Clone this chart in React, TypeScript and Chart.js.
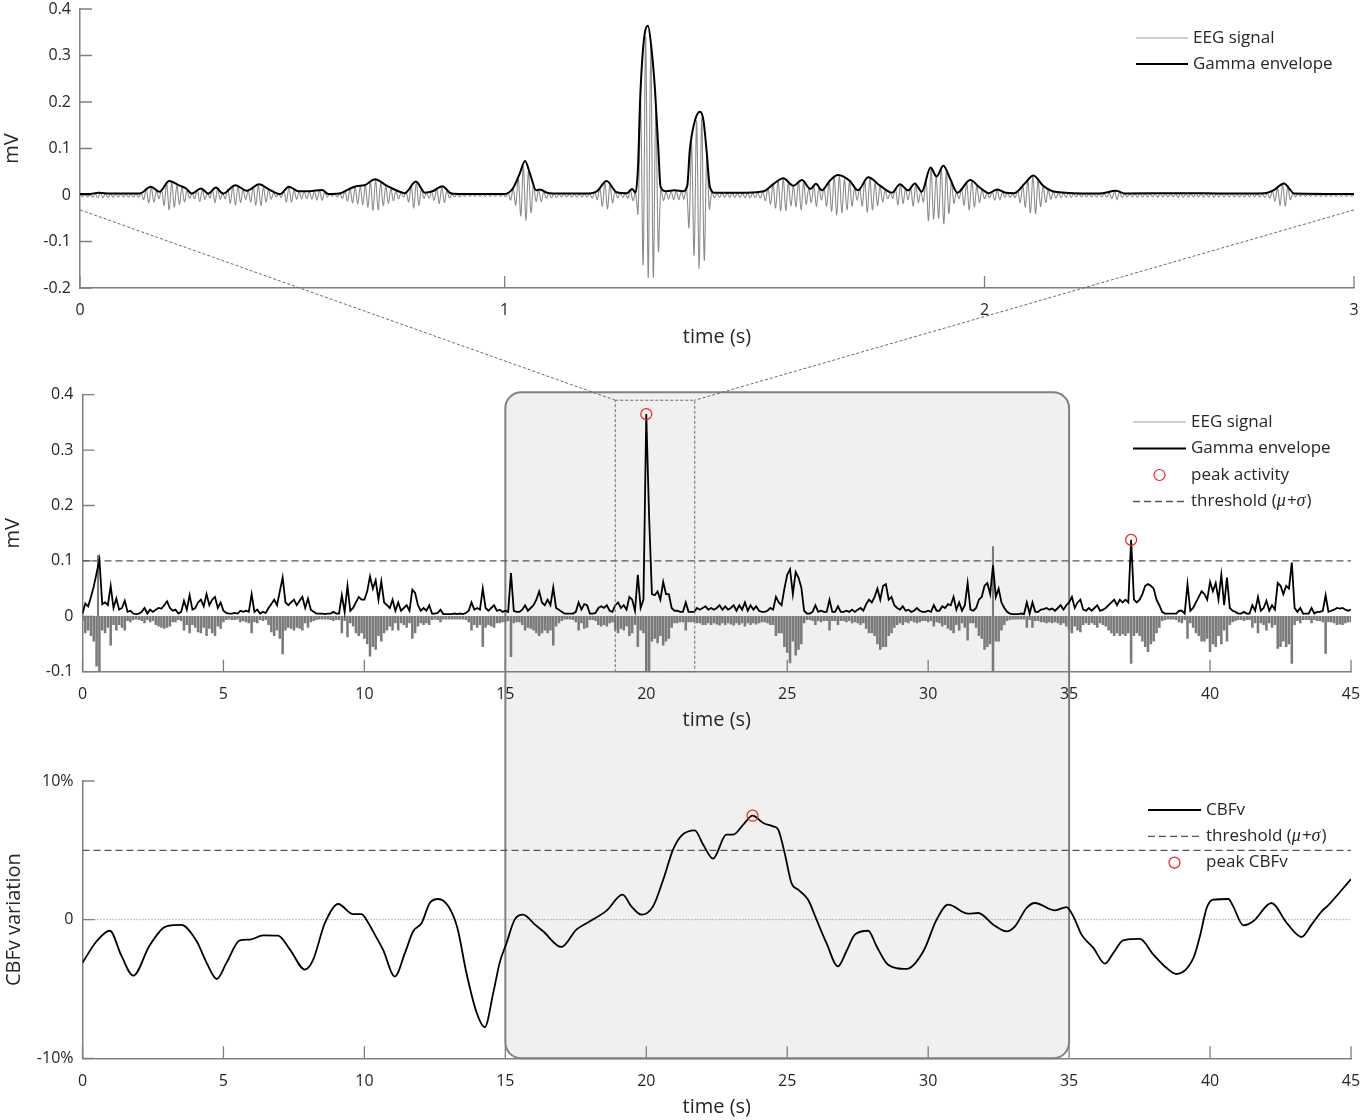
import React, { useEffect, useRef } from 'react';
import { Chart, registerables } from 'chart.js';
Chart.register(...registerables);

const FONT = "'Open Sans', 'DejaVu Sans', sans-serif";
const TEXT = '#262626';
const AXIS = '#7f7f7f';
const TICK_LEN = 12;

// ---------- Panel 1: 3 s zoom window (values in µV) ----------
const TOP_X_TICKS = [0, 1, 2.13, 3];
const TOP_X_LABELS = ['0', '1', '2', '3'];
const ENV1_T = [0, 0.02, 0.045, 0.07, 0.1, 0.14, 0.167, 0.187, 0.21, 0.235,
  0.25, 0.263, 0.285, 0.302, 0.32, 0.337, 0.366, 0.393, 0.422, 0.445,
  0.471, 0.492, 0.515, 0.54, 0.57, 0.585, 0.61, 0.632, 0.65, 0.67,
  0.695, 0.722, 0.75, 0.765, 0.791, 0.812, 0.83, 0.853, 0.875, 0.9,
  1.0, 1.02, 1.035, 1.048, 1.06, 1.074, 1.083, 1.1, 1.13, 1.19,
  1.217, 1.24, 1.264, 1.288, 1.3, 1.308, 1.314, 1.319, 1.327, 1.3375,
  1.346, 1.354, 1.362, 1.367, 1.38, 1.4, 1.42, 1.43, 1.436, 1.448,
  1.46, 1.468, 1.476, 1.483, 1.495, 1.57, 1.61, 1.635, 1.656, 1.68,
  1.7, 1.72, 1.733, 1.747, 1.765, 1.785, 1.813, 1.832, 1.856, 1.884,
  1.912, 1.931, 1.95, 1.966, 1.982, 2.003, 2.017, 2.033, 2.049, 2.066,
  2.096, 2.12, 2.14, 2.16, 2.18, 2.2, 2.225, 2.245, 2.268, 2.29,
  2.32, 2.4, 2.44, 2.46, 2.6, 2.7, 2.79, 2.81, 2.835, 2.86,
  3.0];
const ENV1_V = [2, 2, 5, 3, 3, 3, 18, 7, 30, 20,
  14, 3, 14, 3, 16, 3, 21, 9, 23, 12,
  2, 18, 8, 8, 11, 2, 3, 12, 19, 21,
  34, 20, 8, 4, 29, 5, 8, 19, 3, 2,
  2, 15, 45, 73, 45, 10, 12, 5, 3, 3,
  8, 30, 6, 4, 13, 5, 60, 204, 326, 364,
  312, 226, 97, 18, 8, 10, 8, 20, 97, 160,
  179, 161, 90, 18, 5, 5, 8, 25, 36, 20,
  32, 13, 24, 10, 30, 43, 30, 10, 38, 20,
  5, 23, 10, 25, 7, 59, 40, 63, 35, 5,
  32, 15, 4, 12, 5, 4, 25, 42, 20, 8,
  5, 3, 9, 3, 4, 3, 4, 10, 25, 3,
  2];
const EEG1_DT = 0.006;
const EEG1 = [
  1,-3,2,-4,2,-4,3,-6,4,-6,3,-5,2,-4,2,-4,2,-4,2,-4,2,-4,3,-5,5,-10,13,-17,16,-15,9,-8,12,-22,26,-32,27,-26,20,-20,16,-15,10,-7,3,-8,11,-14,12,-9,
  3,-6,11,-16,14,-9,3,-8,13,-18,19,-22,18,-16,11,-10,10,-15,18,-22,22,-23,17,-15,11,-9,5,-4,2,-5,9,-15,17,-15,11,-9,7,-8,7,-8,7,-9,9,-11,10,-11,6,-4,2,-3,
  2,-4,3,-7,9,-13,13,-17,18,-20,19,-21,21,-26,29,-33,33,-32,26,-23,19,-18,14,-12,9,-8,5,-5,6,-15,21,-28,28,-22,13,-7,5,-7,7,-11,14,-18,18,-16,9,-6,2,-4,2,-4,
  2,-3,2,-3,2,-3,2,-3,2,-3,2,-3,2,-3,2,-3,2,-4,5,-11,14,-22,38,-45,62,-54,52,-38,22,-14,11,-14,7,-7,4,-6,3,-5,2,-4,2,-4,2,-4,2,-4,2,-4,3,-5,
  4,-7,6,-10,15,-24,27,-30,23,-17,8,-6,4,-5,3,-7,10,-12,5,-40,200,-150,340,-178,320,-176,185,-120,15,-12,7,-9,8,-10,9,-10,8,-9,16,-70,115,-130,160,-158,165,-140,88,-30,7,-6,
  4,-5,4,-5,4,-5,4,-5,4,-5,4,-6,4,-6,4,-6,5,-7,7,-12,15,-20,23,-28,31,-34,35,-33,27,-23,19,-25,29,-32,27,-20,14,-16,20,-24,16,-11,16,-24,29,-35,39,-43,41,-38,
  34,-32,29,-24,16,-11,15,-24,31,-37,36,-32,26,-23,19,-15,10,-8,5,-7,14,-21,22,-18,12,-10,16,-24,23,-16,8,-15,34,-55,58,-52,40,-50,59,-62,51,-40,29,-18,6,-8,14,-22,27,-32,
  30,-26,20,-16,11,-8,4,-6,8,-11,11,-10,6,-5,4,-5,3,-6,9,-16,21,-26,31,-38,41,-40,31,-25,19,-16,11,-9,7,-7,5,-6,4,-5,4,-5,3,-4,3,-4,3,-4,3,-4,3,-4,
  3,-4,3,-5,4,-8,8,-10,6,-6,3,-4,3,-4,3,-5,4,-4,3,-4,3,-4,3,-5,4,-4,3,-4,3,-4,3,-5,4,-5,3,-4,3,-4,3,-4,3,-4,3,-4,4,-5,3,-4,3,-4,
  3,-4,3,-4,3,-4,3,-4,3,-4,3,-4,3,-4,3,-5,4,-7,8,-13,16,-22,24,-24,17,-10,4,-4,3,-3,2,-3,2,-3,2,-3,2,-3,2,-3,2,-3,2,-3,2,-3,2,-3,2,-3,
  2];

// ---------- Panel 2: 45 s recording (µV, one value per 0.1 s) ----------
const ENV2_DT = 0.1;
const ENV2 = [
  5,23,18,35,54,78,102,22,25,20, 55,15,32,12,15,28,8,10,5,4, 5,8,15,5,12,8,12,15,14,20, 27,15,10,12,5,8,28,12,38,12,
  15,25,30,18,40,20,30,35,15,25, 10,6,5,5,6,5,10,8,10,8, 40,8,12,5,8,6,15,22,30,20, 45,70,25,20,25,30,20,28,35,15,
  32,12,8,5,5,5,4,5,5,8, 5,5,38,8,55,10,15,25,35,30, 30,45,72,50,65,30,63,25,20,15, 30,10,25,10,15,20,10,48,42,20,
  10,15,10,20,5,5,6,12,4,4, 4,4,5,4,5,4,6,10,25,12, 15,12,50,15,10,15,20,10,12,8, 10,8,78,10,8,8,12,20,10,15,
  20,30,45,25,20,30,20,52,15,12, 8,5,5,5,5,8,25,12,22,20, 5,5,6,15,18,15,20,10,8,20, 25,15,20,12,35,30,10,75,15,30,
  365,180,40,38,45,30,62,40,40,15, 10,10,8,8,25,8,8,8,15,12, 15,18,12,15,12,15,20,12,18,12, 15,20,10,20,12,25,10,20,12,18,
  10,8,8,10,15,12,35,25,20,50, 75,85,40,80,70,52,10,5,5,8, 20,8,10,8,8,30,8,8,18,8, 8,10,8,12,8,12,15,10,22,30,
  25,35,50,30,55,58,30,35,20,15, 12,18,10,12,8,10,15,10,8,8, 10,8,20,10,10,18,15,22,20,35, 12,25,10,20,60,12,10,15,30,35,
  55,60,40,92,35,50,25,15,8,5, 4,4,4,5,4,25,5,25,8,8, 12,13,15,12,14,10,15,20,12,20, 25,35,15,25,30,12,10,15,10,15,
  20,10,12,15,20,25,30,20,30,25, 30,25,138,30,25,30,40,55,58,55, 50,30,20,8,5,5,5,5,5,10, 10,5,58,10,15,25,35,45,40,30,
  62,45,60,30,75,20,70,15,10,8, 5,5,8,5,5,20,10,35,10,15, 28,10,20,12,60,55,40,55,50,97, 15,8,15,5,5,5,15,5,8,8,
  10,38,8,10,12,15,14,15,12,10, 12];
const EEG2_LO = [
  -8,-30,-25,-35,-45,-90,-100,-25,-30,-20, -52,-15,-25,-15,-20,-25,-8,-10,-6,-5, -6,-8,-12,-6,-10,-8,-15,-18,-20,-22, -20,-18,-10,-10,-6,-8,-25,-15,-30,-15,
  -20,-28,-30,-20,-35,-22,-30,-35,-18,-22, -10,-6,-5,-6,-6,-5,-10,-8,-10,-12, -30,-10,-12,-6,-8,-6,-15,-28,-35,-25, -40,-68,-25,-20,-22,-25,-20,-22,-25,-12,
  -20,-10,-8,-6,-5,-5,-5,-5,-6,-8, -6,-6,-30,-8,-37,-12,-18,-30,-35,-30, -40,-50,-72,-55,-60,-35,-45,-30,-25,-18, -25,-12,-25,-12,-15,-20,-12,-40,-30,-18,
  -12,-15,-12,-15,-6,-5,-6,-10,-5,-5, -5,-5,-5,-5,-5,-5,-6,-10,-25,-15, -20,-15,-55,-20,-15,-18,-20,-12,-12,-10, -10,-8,-73,-12,-10,-10,-15,-25,-20,-22,
  -25,-30,-35,-30,-25,-30,-25,-52,-18,-12, -8,-5,-5,-5,-6,-10,-25,-12,-22,-20, -6,-6,-8,-15,-18,-15,-18,-12,-10,-25, -30,-22,-25,-18,-35,-30,-15,-55,-25,-30,
  -100,-100,-45,-40,-48,-35,-52,-45,-40,-20, -12,-12,-10,-10,-25,-10,-10,-10,-12,-12, -15,-15,-12,-15,-12,-14,-16,-12,-15,-12, -14,-16,-12,-15,-12,-18,-12,-15,-12,-14,
  -12,-10,-10,-12,-15,-15,-35,-30,-30,-55, -65,-84,-45,-70,-60,-50,-12,-6,-6,-8, -15,-8,-10,-8,-8,-25,-8,-8,-15,-8, -8,-10,-8,-12,-10,-12,-15,-12,-22,-30,
  -30,-35,-50,-60,-55,-55,-35,-30,-20,-15, -12,-15,-10,-12,-8,-10,-12,-10,-8,-8, -10,-8,-18,-10,-12,-18,-15,-22,-25,-30, -15,-25,-12,-20,-43,-12,-12,-20,-35,-40,
  -60,-55,-50,-100,-45,-45,-25,-15,-8,-6, -5,-5,-5,-5,-5,-20,-6,-20,-8,-8, -10,-10,-12,-10,-12,-10,-12,-15,-12,-18, -25,-30,-18,-25,-28,-15,-12,-15,-12,-15,
  -20,-12,-15,-18,-25,-30,-35,-30,-35,-32, -35,-30,-85,-35,-30,-35,-45,-55,-64,-50, -45,-30,-20,-8,-6,-5,-5,-5,-6,-10, -12,-6,-40,-12,-20,-30,-35,-45,-45,-40,
  -64,-50,-55,-35,-50,-25,-45,-15,-10,-8, -6,-6,-8,-6,-6,-20,-12,-30,-12,-15, -25,-12,-20,-15,-58,-55,-45,-55,-50,-85, -15,-8,-12,-6,-6,-6,-12,-6,-8,-8,
  -10,-67,-10,-10,-12,-15,-14,-15,-12,-10, -10];
const EEG2_UP_T = [0.55, 32.3];
const EEG2_UP_V = [110, 126];
const PEAK2_T = [20.0, 37.2];
const PEAK2_V = [0.365, 0.138];
const THRESH2 = 0.1;

// ---------- Panel 3: CBFv variation (%) ----------
const CBF_T = [0, 0.5, 0.97, 1.38, 1.8, 2.37, 2.86, 3.22, 3.5, 4.05,
  4.4, 4.76, 5.11, 5.58, 5.94, 6.41, 6.94, 7.36, 7.89, 8.18,
  8.6, 9.07, 9.6, 9.9, 10.07, 10.43, 10.66, 11.08, 11.44, 11.73,
  12.03, 12.32, 12.62, 12.98, 13.3, 13.62, 13.98, 14.27, 14.57, 14.8,
  15.04, 15.33, 15.63, 16.05, 16.34, 16.99, 17.52, 18.0, 18.59, 19.16,
  19.47, 19.83, 20.24, 20.6, 20.95, 21.25, 21.72, 22.02, 22.37, 22.84,
  23.08, 23.44, 23.77, 24.15, 24.5, 24.68, 24.91, 25.15, 25.39, 25.74,
  26.04, 26.39, 26.8, 27.1, 27.4, 27.87, 28.17, 28.52, 28.88, 29.24,
  29.83, 30.3, 30.71, 31.42, 31.78, 32.31, 32.78, 33.08, 33.49, 33.79,
  34.5, 34.91, 35.15, 35.44, 35.86, 36.27, 36.57, 36.92, 37.51, 37.99,
  38.46, 38.81, 39.41, 39.64, 39.88, 40.11, 40.65, 40.82, 41.18, 41.53,
  42.18, 42.72, 43.25, 43.6, 43.96, 44.19, 45.0];
const CBF_V = [-3.1, -1.56, -0.8, -2.6, -4.04, -1.9, -0.6, -0.4, -0.38, -1.56,
  -3.1, -4.28, -3.1, -1.5, -1.44, -1.13, -1.15, -2.16, -3.6, -2.9,
  -0.24, 1.13, 0.4, 0.4, 0.0, -1.3, -2.16, -4.1, -2.4, -0.84,
  -0.24, 1.2, 1.49, 0.96, -0.6, -3.85, -6.7, -7.76, -5.3, -3.1,
  -1.7, 0.0, 0.36, -0.36, -0.84, -1.97, -0.72, -0.12, 0.65, 1.8,
  0.96, 0.36, 0.96, 2.88, 5.05, 6.06, 6.44, 5.4, 4.4, 6.13,
  6.13, 6.85, 7.5, 6.97, 6.73, 6.49, 4.8, 2.64, 2.16, 1.44,
  0.0, -1.68, -3.37, -2.28, -1.08, -0.8, -1.92, -3.13, -3.49, -3.55,
  -2.28, 0.0, 1.08, 0.43, 0.48, -0.36, -0.84, -0.48, 0.84, 1.2,
  0.67, 0.91, 0.24, -1.08, -2.04, -3.17, -2.4, -1.49, -1.39, -2.52,
  -3.49, -3.92, -2.76, -1.2, 0.84, 1.44, 1.49, 0.96, -0.41, -0.12,
  1.2, -0.24, -1.25, -0.36, 0.6, 1.03, 2.93];
const PEAK3_T = [23.77];
const PEAK3_V = [7.5];
const THRESH3 = 5;

// ---------- annotations ----------
const BOX_RANGE = [15, 35];
const ZOOM_WIN = [18.9, 21.72];
const ZOOM_TOP = 0.39;
const ZOOM_ANCHOR = -0.032;

const W = 1362;
const tickFont = { family: FONT, size: 16, lineHeight: 1.1 };
const titleFont = { family: FONT, size: 20, lineHeight: 1.2 };

function splitMath(s: string) {
  return s.split(/([μσ])/).filter((p) => p.length > 0).map((p) => ({ s: p, it: p === 'μ' || p === 'σ' }));
}

function drawLegend(ctx: CanvasRenderingContext2D, items: any[], L: any) {
  ctx.save();
  ctx.textBaseline = 'middle';
  items.forEach((it, i) => {
    const y = L.y0 + i * L.dy;
    if (it.kind === 'circle') {
      ctx.beginPath();
      ctx.arc((L.x0 + L.x1) / 2, y, 5.5, 0, Math.PI * 2);
      ctx.strokeStyle = it.color;
      ctx.lineWidth = 1.2;
      ctx.stroke();
    } else {
      ctx.beginPath();
      ctx.setLineDash(it.kind === 'dash' ? [7, 4] : []);
      ctx.moveTo(L.x0, y);
      ctx.lineTo(L.x1, y);
      ctx.strokeStyle = it.color;
      ctx.lineWidth = it.width;
      ctx.stroke();
      ctx.setLineDash([]);
    }
    let x = L.tx;
    ctx.fillStyle = TEXT;
    for (const p of splitMath(it.text)) {
      ctx.font = p.it ? "italic 18px 'Liberation Serif', serif" : `17px ${FONT}`;
      ctx.fillText(p.s, x, y);
      x += ctx.measureText(p.s).width + (p.it ? 1 : 0);
    }
  });
  ctx.restore();
}

function decoPlugin(items: any[], L: any) {
  return {
    id: 'deco',
    beforeDatasetsDraw(chart: any) {
      const { ctx, chartArea: a, scales } = chart;
      ctx.save();
      ctx.strokeStyle = AXIS;
      ctx.lineWidth = 1.3;
      ctx.beginPath();
      scales.x.ticks.forEach((t: any) => {
        const p = scales.x.getPixelForValue(t.value);
        ctx.moveTo(p, a.bottom);
        ctx.lineTo(p, a.bottom - TICK_LEN);
      });
      scales.y.ticks.forEach((t: any) => {
        const p = scales.y.getPixelForValue(t.value);
        ctx.moveTo(a.left, p);
        ctx.lineTo(a.left + TICK_LEN, p);
      });
      ctx.stroke();
      ctx.restore();
    },
    afterDraw(chart: any) {
      drawLegend(chart.ctx, items, L);
    },
  };
}

function scalesFor(o: any) {
  return {
    x: {
      type: 'linear', min: o.xmin, max: o.xmax, offset: false,
      afterBuildTicks: o.xTicks ? (s: any) => { s.ticks = o.xTicks.map((v: number) => ({ value: v })); } : undefined,
      ticks: { stepSize: o.xstep, autoSkip: false, maxRotation: 0, minRotation: 0, padding: 14, color: TEXT, font: tickFont, callback: o.xcb },
      grid: { display: false, drawTicks: false, offset: false },
      border: { display: true, color: AXIS, width: 1.5 },
      title: { display: true, text: 'time (s)', color: TEXT, font: titleFont, padding: { top: 0, bottom: o.xTitlePad } },
      afterFit: (s: any) => { s.height = o.H - o.area.b; s.paddingLeft = 0; s.paddingRight = 0; },
    },
    y: {
      type: 'linear', min: o.ymin, max: o.ymax,
      ticks: { stepSize: o.ystep, autoSkip: false, padding: 9, color: TEXT, font: tickFont, callback: o.ycb },
      grid: { display: false, drawTicks: false },
      border: { display: true, color: AXIS, width: 1.5 },
      title: { display: true, text: o.yTitle, color: TEXT, font: titleFont, padding: { top: o.yTitlePad, bottom: 0 } },
      afterFit: (s: any) => { s.width = o.area.l; s.paddingTop = 0; s.paddingBottom = 0; },
    },
  };
}

function baseOptions(o: any) {
  return {
    responsive: false,
    animation: false,
    devicePixelRatio: 1,
    events: [],
    layout: { padding: { left: 0, right: W - o.area.r, top: o.area.t, bottom: 0 } },
    plugins: { legend: { display: false }, tooltip: { enabled: false } },
    scales: scalesFor(o),
  };
}

const fmt1 = (v: number) => (Math.abs(v) < 1e-9 ? '0' : Number(v).toFixed(1));

export default function App() {
  const bgRef = useRef<HTMLCanvasElement>(null);
  const c1 = useRef<HTMLCanvasElement>(null);
  const c2 = useRef<HTMLCanvasElement>(null);
  const c3 = useRef<HTMLCanvasElement>(null);
  const fgRef = useRef<HTMLCanvasElement>(null);

  useEffect(() => {
    const H = 360;
    // ---------- chart 1 ----------
    const o1 = { xmin: 0, xmax: 3, xTicks: TOP_X_TICKS, xcb: (_v: any, i: number) => TOP_X_LABELS[i],
      ymin: -0.2, ymax: 0.4, ystep: 0.1, ycb: fmt1, yTitle: 'mV', yTitlePad: 0, xTitlePad: 11, H,
      area: { l: 80, r: 1354, t: 9, b: 288 } };
    const ch1 = new Chart(c1.current as any, {
      type: 'line',
      data: {
        datasets: [
          { label: 'Gamma envelope', data: ENV1_T.map((t, i) => ({ x: t, y: ENV1_V[i] / 1000 })), borderColor: '#000', borderWidth: 2, pointRadius: 0, cubicInterpolationMode: 'monotone', order: 1 },
          { label: 'EEG signal', data: EEG1.map((v, k) => ({ x: k * EEG1_DT, y: v / 1000 })), borderColor: '#8c8c8c', borderWidth: 1.1, pointRadius: 0, tension: 0.35, order: 2 },
        ],
      } as any,
      options: baseOptions(o1) as any,
      plugins: [decoPlugin([
        { text: 'EEG signal', kind: 'line', color: '#a0a0a0', width: 1 },
        { text: 'Gamma envelope', kind: 'line', color: '#000', width: 2 },
      ], { x0: 1136, x1: 1188, tx: 1193, y0: 38, dy: 26 })],
    });

    // ---------- chart 2 ----------
    const o2 = { xmin: 0, xmax: 45, xstep: 5, xcb: (v: any) => String(v),
      ymin: -0.1, ymax: 0.4, ystep: 0.1, ycb: fmt1, yTitle: 'mV', yTitlePad: 1, xTitlePad: 8, H,
      area: { l: 82.5, r: 1351, t: 14.7, b: 291.7 } };
    const ch2 = new Chart(c2.current as any, {
      type: 'line',
      data: {
        datasets: [
          { type: 'line', label: 'peak activity', data: PEAK2_T.map((t, i) => ({ x: t, y: PEAK2_V[i] })), showLine: false, pointRadius: 5.5, pointBorderColor: '#ee2222', pointBackgroundColor: 'rgba(0,0,0,0)', pointBorderWidth: 1.2, order: 0 },
          { type: 'line', label: 'Gamma envelope', data: ENV2.map((v, k) => ({ x: k * ENV2_DT, y: v / 1000 })), borderColor: '#000', borderWidth: 1.8, pointRadius: 0, tension: 0, order: 1 },
          { type: 'bar', label: 'EEG signal', data: EEG2_LO.map((v, k) => ({ x: k * ENV2_DT, y: v / 1000 })), backgroundColor: '#7a7a7a', borderWidth: 0, barThickness: 1.9, grouped: false, order: 2 },
          { type: 'bar', label: 'EEG signal +', data: EEG2_UP_T.map((t, i) => ({ x: t, y: EEG2_UP_V[i] / 1000 })), backgroundColor: '#7a7a7a', borderWidth: 0, barThickness: 1.4, grouped: false, order: 2 },
          { type: 'line', label: 'threshold', data: [{ x: 0, y: THRESH2 }, { x: 45, y: THRESH2 }], borderColor: '#555', borderWidth: 1.3, borderDash: [7, 4], pointRadius: 0, order: 3 },
        ],
      } as any,
      options: baseOptions(o2) as any,
      plugins: [decoPlugin([
        { text: 'EEG signal', kind: 'line', color: '#a0a0a0', width: 1 },
        { text: 'Gamma envelope', kind: 'line', color: '#000', width: 2 },
        { text: 'peak activity', kind: 'circle', color: '#ee2222', width: 1 },
        { text: 'threshold (μ+σ)', kind: 'dash', color: '#555', width: 1.3 },
      ], { x0: 1133, x1: 1186, tx: 1191, y0: 42, dy: 26.5 })],
    });

    // ---------- chart 3 ----------
    const o3 = { xmin: 0, xmax: 45, xstep: 5, xcb: (v: any) => String(v),
      ymin: -10, ymax: 10, ystep: 10, ycb: (v: any) => (v === 0 ? '0' : v + '%'), yTitle: 'CBFv variation', yTitlePad: 2, xTitlePad: 1, H,
      area: { l: 82.5, r: 1351, t: 21, b: 298.3 } };
    const ch3 = new Chart(c3.current as any, {
      type: 'line',
      data: {
        datasets: [
          { label: 'peak CBFv', data: PEAK3_T.map((t, i) => ({ x: t, y: PEAK3_V[i] })), showLine: false, pointRadius: 5.5, pointBorderColor: '#ee2222', pointBackgroundColor: 'rgba(0,0,0,0)', pointBorderWidth: 1.2, order: 0 },
          { label: 'CBFv', data: CBF_T.map((t, i) => ({ x: t, y: CBF_V[i] })), borderColor: '#000', borderWidth: 1.8, pointRadius: 0, cubicInterpolationMode: 'monotone', order: 1 },
          { label: 'threshold', data: [{ x: 0, y: THRESH3 }, { x: 45, y: THRESH3 }], borderColor: '#555', borderWidth: 1.3, borderDash: [7, 4], pointRadius: 0, order: 3 },
          { label: 'zero', data: [{ x: 0, y: 0 }, { x: 45, y: 0 }], borderColor: '#7a7a7a', borderWidth: 1, borderDash: [1, 2], pointRadius: 0, order: 4 },
        ],
      } as any,
      options: baseOptions(o3) as any,
      plugins: [decoPlugin([
        { text: 'CBFv', kind: 'line', color: '#000', width: 2 },
        { text: 'threshold (μ+σ)', kind: 'dash', color: '#555', width: 1.3 },
        { text: 'peak CBFv', kind: 'circle', color: '#ee2222', width: 1 },
      ], { x0: 1148, x1: 1201, tx: 1206, y0: 50, dy: 26.3 })],
    });

    // ---------- background box ----------
    const bg = bgRef.current!.getContext('2d')!;
    bg.clearRect(0, 0, W, 1120);
    const x2 = ch2.scales.x, y2 = ch2.scales.y, y3 = ch3.scales.y;
    const bl = x2.getPixelForValue(BOX_RANGE[0]);
    const br = x2.getPixelForValue(BOX_RANGE[1]);
    const bt = 380 + y2.getPixelForValue(0.4) - 2.5;
    const bb = 760 + y3.getPixelForValue(-10);
    const r = 16;
    bg.beginPath();
    bg.moveTo(bl + r, bt);
    bg.lineTo(br - r, bt);
    bg.arcTo(br, bt, br, bt + r, r);
    bg.lineTo(br, bb - r);
    bg.arcTo(br, bb, br - r, bb, r);
    bg.lineTo(bl + r, bb);
    bg.arcTo(bl, bb, bl, bb - r, r);
    bg.lineTo(bl, bt + r);
    bg.arcTo(bl, bt, bl + r, bt, r);
    bg.closePath();
    bg.fillStyle = '#f0f0f0';
    bg.fill();
    bg.strokeStyle = '#808080';
    bg.lineWidth = 2;
    bg.stroke();

    // ---------- zoom connectors ----------
    const fg = fgRef.current!.getContext('2d')!;
    fg.clearRect(0, 0, W, 1120);
    const a1 = ch1.chartArea;
    const ay = ch1.scales.y.getPixelForValue(ZOOM_ANCHOR);
    const zx0 = x2.getPixelForValue(ZOOM_WIN[0]);
    const zx1 = x2.getPixelForValue(ZOOM_WIN[1]);
    const zt = 380 + y2.getPixelForValue(ZOOM_TOP);
    const zb = 380 + ch2.chartArea.bottom;
    fg.save();
    fg.strokeStyle = '#6a6a6a';
    fg.lineWidth = 1;
    fg.setLineDash([3, 2]);
    fg.beginPath();
    fg.moveTo(a1.left, ay); fg.lineTo(zx0, zt);
    fg.moveTo(a1.right, ay); fg.lineTo(zx1, zt);
    fg.stroke();
    fg.beginPath();
    fg.rect(zx0, zt, zx1 - zx0, zb - zt);
    fg.stroke();
    fg.restore();

    return () => { ch1.destroy(); ch2.destroy(); ch3.destroy(); };
  }, []);

  const abs = (top: number, h: number, z: number): React.CSSProperties => ({ position: 'absolute', left: 0, top, width: W, height: h, zIndex: z });
  return (
    <div style={{ position: 'absolute', left: 0, top: 0, width: W, height: 1120, background: '#fff', overflow: 'hidden' }}>
      <canvas ref={bgRef} width={W} height={1120} style={abs(0, 1120, 0)} />
      <canvas ref={c1} width={W} height={360} style={abs(0, 360, 1)} />
      <canvas ref={c2} width={W} height={360} style={abs(380, 360, 1)} />
      <canvas ref={c3} width={W} height={360} style={abs(760, 360, 1)} />
      <canvas ref={fgRef} width={W} height={1120} style={{ ...abs(0, 1120, 2), pointerEvents: 'none' }} />
    </div>
  );
}
